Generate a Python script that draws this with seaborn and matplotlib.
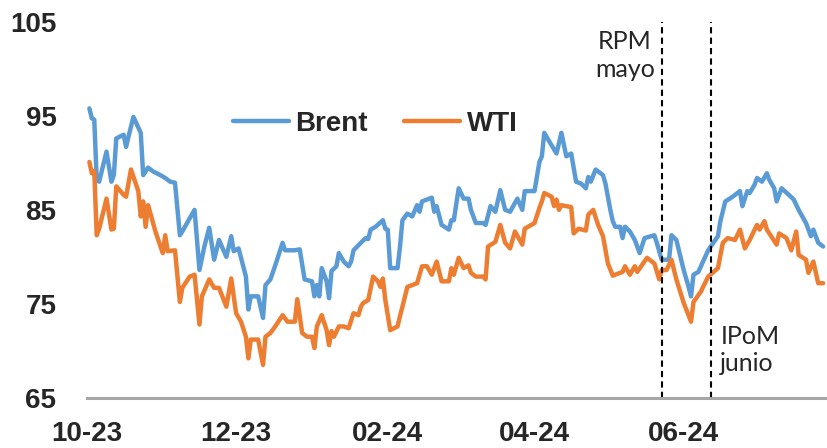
import matplotlib
matplotlib.use("Agg")
import matplotlib.pyplot as plt
import matplotlib.dates as mdates
import pandas as pd
import seaborn as sns

# Brent, USD/barril
brent_dates = [
    "2023-10-02", "2023-10-03", "2023-10-04", "2023-10-05", "2023-10-06", "2023-10-09", "2023-10-11", "2023-10-12",
    "2023-10-13", "2023-10-16", "2023-10-17", "2023-10-18", "2023-10-20", "2023-10-23", "2023-10-24", "2023-10-26",
    "2023-10-28", "2023-10-31",
    "2023-11-02", "2023-11-04", "2023-11-06", "2023-11-08", "2023-11-09", "2023-11-12", "2023-11-14", "2023-11-16",
    "2023-11-18", "2023-11-20", "2023-11-22", "2023-11-24", "2023-11-27", "2023-11-29", "2023-11-30",
    "2023-12-02", "2023-12-05", "2023-12-06", "2023-12-07", "2023-12-10", "2023-12-12", "2023-12-13", "2023-12-15",
    "2023-12-17", "2023-12-20", "2023-12-21", "2023-12-25", "2023-12-27", "2023-12-29",
    "2024-01-01", "2024-01-02", "2024-01-03", "2024-01-04", "2024-01-05", "2024-01-07", "2024-01-08", "2024-01-09",
    "2024-01-11", "2024-01-12", "2024-01-14", "2024-01-16", "2024-01-17", "2024-01-18", "2024-01-21", "2024-01-23",
    "2024-01-24", "2024-01-25", "2024-01-27", "2024-01-30", "2024-01-31",
    "2024-02-01", "2024-02-02", "2024-02-05", "2024-02-06", "2024-02-07", "2024-02-09", "2024-02-11", "2024-02-13",
    "2024-02-14", "2024-02-15", "2024-02-19", "2024-02-20", "2024-02-21", "2024-02-23", "2024-02-26", "2024-02-27",
    "2024-02-28",
    "2024-03-01", "2024-03-03", "2024-03-05", "2024-03-06", "2024-03-08", "2024-03-11", "2024-03-12", "2024-03-14",
    "2024-03-16", "2024-03-18", "2024-03-20", "2024-03-22", "2024-03-25", "2024-03-27", "2024-03-28",
    "2024-04-01", "2024-04-03", "2024-04-04", "2024-04-05", "2024-04-07", "2024-04-10", "2024-04-12", "2024-04-14",
    "2024-04-16", "2024-04-18", "2024-04-20", "2024-04-22", "2024-04-23", "2024-04-24", "2024-04-26", "2024-04-29",
    "2024-04-30",
    "2024-05-02", "2024-05-03", "2024-05-04", "2024-05-06", "2024-05-07", "2024-05-08", "2024-05-10", "2024-05-12",
    "2024-05-14", "2024-05-16", "2024-05-20", "2024-05-21", "2024-05-23", "2024-05-26", "2024-05-27", "2024-05-29",
    "2024-06-01", "2024-06-03", "2024-06-04", "2024-06-05", "2024-06-07", "2024-06-11", "2024-06-15", "2024-06-16",
    "2024-06-18", "2024-06-21", "2024-06-23", "2024-06-24", "2024-06-25", "2024-06-27", "2024-06-28", "2024-06-30",
    "2024-07-01", "2024-07-03", "2024-07-05", "2024-07-06", "2024-07-08", "2024-07-09", "2024-07-11", "2024-07-14",
    "2024-07-16", "2024-07-18", "2024-07-21", "2024-07-23", "2024-07-24", "2024-07-26", "2024-07-28",
]
brent = [
    95.8, 94.75, 94.6, 88.2, 88.0, 91.2, 88.0, 88.7, 92.6, 93.0, 91.7, 92.8, 94.9, 93.2, 88.7, 89.5, 89.1, 88.7,
    88.4, 88.0, 87.9, 82.3, 82.7, 84.1, 85.0, 78.6, 81.1, 83.1, 79.7, 81.8, 80.0, 82.2, 80.6,
    80.9, 77.9, 74.4, 75.8, 75.8, 73.5, 77.0, 77.6, 79.1, 81.5, 80.7, 80.7, 80.8, 77.6,
    77.4, 75.8, 77.0, 75.8, 78.8, 77.4, 75.6, 78.5, 79.0, 80.4, 79.5, 79.0, 79.5, 80.7, 81.5, 82.0, 81.9, 82.9,
    83.2, 83.9, 83.0,
    82.9, 78.8, 78.8, 81.1, 83.9, 84.6, 84.3, 85.5, 84.8, 85.9, 86.3, 84.8, 85.4, 83.4, 82.9, 83.9, 83.9,
    87.3, 86.2, 86.2, 85.0, 83.6, 83.6, 83.4, 85.4, 84.8, 87.1, 85.0, 84.8, 86.2, 85.0, 87.0,
    87.0, 90.1, 90.7, 93.2, 92.3, 91.0, 93.2, 90.7, 91.0, 88.0, 87.8, 87.3, 88.5, 88.0, 89.3, 88.7, 87.8,
    85.0, 83.8, 83.2, 83.2, 82.0, 83.2, 82.7, 81.8, 80.4, 82.0, 82.3, 81.5, 79.7, 79.7, 82.3, 81.8,
    78.6, 76.8, 75.8, 78.1, 78.4, 80.7, 82.2, 83.8, 85.9, 86.4, 86.8, 87.0, 85.4, 87.0, 86.8, 87.7,
    88.4, 88.0, 88.9, 88.2, 87.3, 85.9, 87.3, 86.6, 86.1, 85.0, 83.6, 82.2, 82.9, 81.5, 81.1,
]

# WTI, USD/barril
wti_dates = [
    "2023-10-02", "2023-10-03", "2023-10-04", "2023-10-05", "2023-10-06", "2023-10-09", "2023-10-11", "2023-10-12",
    "2023-10-13", "2023-10-16", "2023-10-17", "2023-10-19", "2023-10-22", "2023-10-23", "2023-10-24", "2023-10-25",
    "2023-10-26", "2023-10-29",
    "2023-11-01", "2023-11-02", "2023-11-03", "2023-11-06", "2023-11-08", "2023-11-09", "2023-11-12", "2023-11-14",
    "2023-11-16", "2023-11-17", "2023-11-20", "2023-11-22", "2023-11-24", "2023-11-27", "2023-11-29",
    "2023-12-01", "2023-12-03", "2023-12-05", "2023-12-06", "2023-12-07", "2023-12-10", "2023-12-12", "2023-12-13",
    "2023-12-15", "2023-12-17", "2023-12-20", "2023-12-22", "2023-12-25", "2023-12-26", "2023-12-28", "2023-12-30",
    "2024-01-01", "2024-01-02", "2024-01-03", "2024-01-05", "2024-01-07", "2024-01-08", "2024-01-09", "2024-01-10",
    "2024-01-12", "2024-01-14", "2024-01-16", "2024-01-18", "2024-01-20", "2024-01-21", "2024-01-22", "2024-01-24",
    "2024-01-26", "2024-01-28", "2024-01-29", "2024-01-30", "2024-01-31",
    "2024-02-02", "2024-02-05", "2024-02-06", "2024-02-07", "2024-02-09", "2024-02-11", "2024-02-13", "2024-02-15",
    "2024-02-17", "2024-02-19", "2024-02-21", "2024-02-23", "2024-02-26", "2024-02-27", "2024-02-28",
    "2024-03-01", "2024-03-03", "2024-03-05", "2024-03-06", "2024-03-08", "2024-03-11", "2024-03-12", "2024-03-13",
    "2024-03-16", "2024-03-18", "2024-03-20", "2024-03-22", "2024-03-24", "2024-03-27", "2024-03-28",
    "2024-04-01", "2024-04-03", "2024-04-04", "2024-04-05", "2024-04-08", "2024-04-09", "2024-04-10", "2024-04-11",
    "2024-04-12", "2024-04-16", "2024-04-17", "2024-04-19", "2024-04-22", "2024-04-23", "2024-04-25", "2024-04-27",
    "2024-04-29",
    "2024-05-01", "2024-05-03", "2024-05-04", "2024-05-07", "2024-05-08", "2024-05-10", "2024-05-12", "2024-05-13",
    "2024-05-17", "2024-05-20", "2024-05-22", "2024-05-23", "2024-05-25", "2024-05-27", "2024-05-29",
    "2024-06-01", "2024-06-04", "2024-06-05", "2024-06-08", "2024-06-11", "2024-06-15", "2024-06-17", "2024-06-19",
    "2024-06-22", "2024-06-24", "2024-06-26", "2024-06-28", "2024-06-30",
    "2024-07-01", "2024-07-02", "2024-07-04", "2024-07-05", "2024-07-09", "2024-07-10", "2024-07-13", "2024-07-15",
    "2024-07-17", "2024-07-18", "2024-07-21", "2024-07-22", "2024-07-24", "2024-07-26", "2024-07-28",
]
wti = [
    90.1, 88.9, 89.1, 82.3, 83.0, 86.2, 82.9, 83.0, 87.5, 86.6, 86.4, 89.3, 87.0, 84.3, 85.9, 83.2, 85.5, 82.7,
    80.4, 82.3, 80.6, 80.7, 75.2, 76.7, 77.9, 78.1, 72.8, 75.8, 77.6, 76.7, 76.7, 74.7, 77.7,
    74.0, 73.1, 71.5, 69.2, 71.2, 71.2, 68.5, 71.5, 71.9, 72.6, 73.8, 73.1, 73.1, 75.5, 71.9, 71.5,
    71.5, 70.3, 72.6, 73.8, 72.2, 70.6, 72.1, 71.5, 72.6, 72.6, 72.4, 74.0, 73.8, 74.7, 75.1, 75.4, 77.9, 77.4,
    76.8, 77.7, 75.4,
    72.2, 72.6, 73.7, 74.7, 76.8, 77.0, 77.2, 79.0, 79.0, 78.1, 79.5, 77.4, 77.4, 78.8, 78.1,
    79.9, 78.8, 79.1, 78.3, 77.9, 77.9, 77.6, 81.1, 81.6, 83.4, 81.5, 80.9, 82.7, 81.3, 83.0,
    83.6, 85.2, 85.9, 86.8, 86.4, 85.4, 86.1, 85.0, 85.5, 85.3, 82.5, 83.0, 82.8, 84.5, 85.0, 83.4, 82.2,
    79.3, 78.0, 78.1, 78.4, 79.0, 78.1, 79.0, 78.4, 79.9, 79.3, 77.6, 78.6, 78.6, 79.7, 77.6,
    75.1, 73.1, 75.2, 76.3, 77.9, 78.8, 81.5, 82.0, 81.8, 82.9, 80.9, 81.8, 82.9,
    83.4, 82.9, 83.8, 82.9, 81.3, 82.5, 82.0, 80.7, 82.7, 80.2, 79.7, 78.3, 79.5, 77.2, 77.2,
]

# reuniones de política monetaria
event_dates = ["2024-05-23", "2024-06-12"]
event_labels = ["RPM\nmayo", "IPoM\njunio"]

series_names = ["Brent", "WTI"]
colors = ["#5B9BD5", "#ED7D31"]
y_ticks = [65, 75, 85, 95, 105]

sns.set_style("white")
plt.rcParams["font.family"] = ["Liberation Sans", "DejaVu Sans"]

brent_df = pd.DataFrame({"fecha": pd.to_datetime(brent_dates), "precio": brent})
wti_df = pd.DataFrame({"fecha": pd.to_datetime(wti_dates), "precio": wti})

fig, ax = plt.subplots(figsize=(8.28, 4.48), dpi=100)
fig.subplots_adjust(left=0.105, right=1.0, bottom=0.112, top=0.951)

for df, name, col in zip([brent_df, wti_df], series_names, colors):
    sns.lineplot(data=df, x="fecha", y="precio", ax=ax, color=col, lw=3.2, label=name)

for d in event_dates:
    ax.axvline(pd.Timestamp(d), color="black", lw=1.5, ls=(0, (3, 2)))

ax.text(pd.Timestamp("2024-05-08"), 104.1, event_labels[0], ha="center", va="top",
        fontsize=18, family="Lato", linespacing=1.25)
ax.text(pd.Timestamp("2024-06-16"), 72.8, event_labels[1], ha="left", va="top",
        fontsize=18, family="Lato", linespacing=1.25)

ax.set_xlim(pd.Timestamp("2023-10-01"), pd.Timestamp("2024-07-30"))
ax.set_ylim(65, 105)
ax.set_yticks(y_ticks)
ax.xaxis.set_major_locator(mdates.MonthLocator(bymonth=[10, 12, 2, 4, 6]))
ax.xaxis.set_major_formatter(mdates.DateFormatter("%m-%y"))
ax.set_xlabel("")
ax.set_ylabel("")

for s in ["top", "right", "left"]:
    ax.spines[s].set_visible(False)
ax.spines["bottom"].set_color("#A6A6A6")
ax.spines["bottom"].set_linewidth(2.2)

ax.tick_params(axis="x", direction="out", length=5, width=2.2, color="#A6A6A6", pad=12,
               labelsize=20)
ax.tick_params(axis="y", length=0, pad=22, labelsize=20)
for lab in ax.get_xticklabels() + ax.get_yticklabels():
    lab.set_fontweight("bold")

ax.legend(loc="center", bbox_to_anchor=(0.389, 0.729), ncol=2, frameon=False,
          handlelength=2.0, handletextpad=0.25, columnspacing=1.3,
          prop={"weight": "bold", "size": 20})

fig.savefig("out.png", dpi=100)
